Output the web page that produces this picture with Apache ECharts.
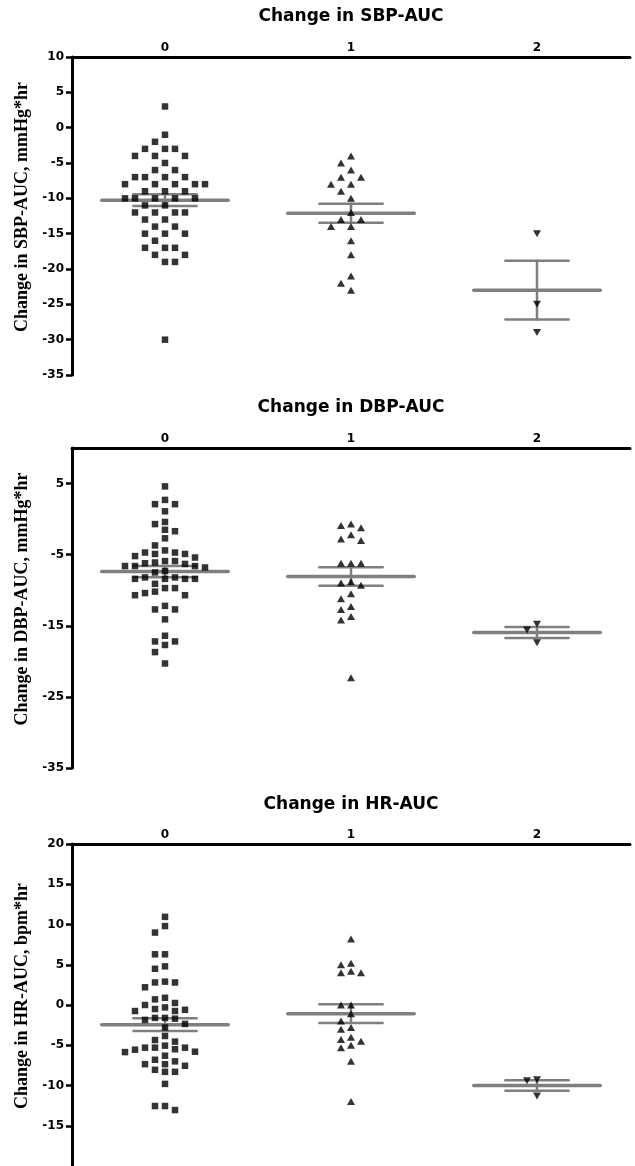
<!DOCTYPE html>
<html>
<head>
<meta charset="utf-8">
<script src="https://cdn.jsdelivr.net/npm/echarts@6/dist/echarts.min.js"></script>
<style>
  html, body { margin: 0; padding: 0; background: #fff; }
  #chart { width: 635px; height: 1166px; }
</style>
</head>
<body>
<div id="chart"></div>
<script>
// groups on the x axis
const categories = ['0', '1', '2']

// Change in SBP-AUC, mmHg*hr
const sbp0 = [3, -1, -2, -3, -3, -3, -4, -4, -4, -5, -6, -6, -7, -7, -7, -7, -8, -8, -8, -8, -8,
  -9, -9, -9, -10, -10, -10, -10, -10, -11, -11, -12, -12, -12, -12, -13, -13, -14, -14,
  -15, -15, -15, -16, -17, -17, -17, -18, -18, -19, -19, -30]
const sbp1 = [-4, -5, -6, -7, -7, -8, -8, -9, -10, -12, -13, -13, -14, -14, -16, -18, -21, -22, -23]
const sbp2 = [-15, -25, -29]

// Change in DBP-AUC, mmHg*hr
const dbp0 = [4.6, 2.7, 2.1, 2.1, 1.1, -0.4, -0.7, -1.5, -1.7, -2.7, -3.7, -4.4, -4.7, -4.7, -4.9, -4.9,
  -5.2, -5.4, -5.9, -5.9, -6.1, -6.2, -6.3, -6.6, -6.6, -6.6, -6.8, -7.3, -7.5, -8.2, -8.2, -8.4,
  -8.4, -8.4, -8.4, -9.1, -9.7, -9.7, -10.2, -10.4, -10.7, -10.7, -12.2, -12.7, -12.7, -14.1,
  -16.4, -17.2, -17.2, -17.7, -18.7, -20.3]
const dbp1 = [-0.7, -0.9, -1.2, -2.2, -2.8, -3.0, -6.2, -6.2, -6.2, -8.8, -9.0, -9.3, -10.5, -11.2,
  -12.3, -12.7, -13.7, -14.2, -22.3]
const dbp2 = [-14.8, -15.6, -17.4]

// Change in HR-AUC, bpm*hr
const hr0 = [10.95, 9.8, 9.0, 6.3, 6.3, 4.8, 4.5, 2.9, 2.8, 2.8, 2.2, 0.9, 0.7, 0.25, 0.0, -0.3, -0.5,
  -0.6, -0.75, -0.75, -1.6, -1.6, -1.7, -1.85, -2.35, -2.8, -3.85, -4.35, -4.55, -5.05, -5.3, -5.3,
  -5.3, -5.5, -5.55, -5.8, -5.85, -6.3, -6.8, -7.0, -7.35, -7.35, -7.55, -8.05, -8.3, -8.3, -9.8,
  -12.55, -12.55, -13.05]
const hr1 = [8.2, 5.2, 5.0, 4.2, 4.0, 4.0, 0.0, 0.0, -1.1, -2.0, -2.8, -3.0, -4.0, -4.3, -4.5, -5.0,
  -5.3, -7.0, -12.0]
const hr2 = [-9.3, -9.4, -11.3]

const panels = [
  { title: 'Change in SBP-AUC', name: 'Change in SBP-AUC, mmHg*hr', groups: [sbp0, sbp1, sbp2],
    min: -35, max: 10, interval: 5, top: 57, height: 318, titleTop: 8 },
  { title: 'Change in DBP-AUC', name: 'Change in DBP-AUC, mmHg*hr', groups: [dbp0, dbp1, dbp2],
    min: -35, max: 10, interval: 10, top: 448, height: 320, titleTop: 399, hideMax: true },
  { title: 'Change in HR-AUC', name: 'Change in HR-AUC, bpm*hr', groups: [hr0, hr1, hr2],
    min: -20, max: 20, interval: 5, top: 844, height: 322, titleTop: 796, hideMin: true }
]

const sans = 'DejaVu Sans'
const gray = '#7f7f7f'

function meanSem(arr) {
  const n = arr.length
  const m = arr.reduce((a, b) => a + b, 0) / n
  const sd = Math.sqrt(arr.reduce((a, b) => a + (b - m) * (b - m), 0) / (n - 1))
  return [m, sd / Math.sqrt(n)]
}

// mean line + SEM whiskers
function renderBars(params, api) {
  const c = api.value(0)
  const m = api.value(1)
  const s = api.value(2)
  const band = api.size([1, 0])[0]
  const mid = api.coord([c, m])
  const hi = api.coord([c, m + s])
  const lo = api.coord([c, m - s])
  const line = (x1, y1, x2, y2, w) => ({
    type: 'line',
    shape: { x1, y1, x2, y2 },
    style: { stroke: gray, lineWidth: w, lineCap: 'round' }
  })
  return {
    type: 'group',
    children: [
      line(mid[0], hi[1], mid[0], lo[1], 2.5),
      line(mid[0] - band * 0.17, hi[1], mid[0] + band * 0.17, hi[1], 2.5),
      line(mid[0] - band * 0.17, lo[1], mid[0] + band * 0.17, lo[1], 2.5),
      line(mid[0] - band * 0.34, mid[1], mid[0] + band * 0.34, mid[1], 3.5)
    ]
  }
}

const symbols = [
  { symbol: 'rect', symbolSize: 6.5, symbolRotate: 0 },
  { symbol: 'triangle', symbolSize: [8, 7], symbolRotate: 0 },
  { symbol: 'triangle', symbolSize: [8, 7], symbolRotate: 180 }
]

const chart = echarts.init(document.getElementById('chart'))

function pointData(p, g, offsets) {
  return panels[p].groups[g].map((v, i) => ({
    value: [g, v],
    symbolOffset: [offsets ? offsets[i] : 0, 0]
  }))
}

const option = {
  animation: false,
  title: [],
  grid: [],
  xAxis: [],
  yAxis: [],
  series: []
}

panels.forEach((p, i) => {
  option.title.push({
    text: p.title,
    left: 351,
    textAlign: 'center',
    top: p.titleTop,
    padding: 0,
    textStyle: { fontFamily: sans, fontWeight: 'bold', fontSize: 17, color: '#000' }
  })
  option.grid.push({ left: 72, right: 5, top: p.top, height: p.height })
  option.xAxis.push({
    gridIndex: i,
    type: 'category',
    data: categories,
    position: 'top',
    axisLine: { onZero: false, lineStyle: { color: '#000', width: 3 } },
    axisTick: { inside: true, alignWithLabel: true, length: 5, lineStyle: { color: '#000', width: 2.5 } },
    axisLabel: { margin: 3, color: '#000', fontFamily: sans, fontWeight: 'bold', fontSize: 12 },
    splitLine: { show: false }
  })
  option.yAxis.push({
    gridIndex: i,
    type: 'value',
    min: p.min,
    max: p.max,
    interval: p.interval,
    axisLine: { show: true, lineStyle: { color: '#000', width: 3 } },
    axisTick: { show: true, length: 6, lineStyle: { color: '#000', width: 2.5 } },
    axisLabel: {
      margin: 8, color: '#000', fontFamily: sans, fontWeight: 'bold', fontSize: 12,
      showMaxLabel: !p.hideMax, showMinLabel: !p.hideMin
    },
    splitLine: { show: false },
    name: p.name,
    nameLocation: 'middle',
    nameRotate: 90,
    nameGap: 38,
    nameTextStyle: {
      fontFamily: 'Liberation Serif', fontWeight: 'bold', fontSize: 18, color: '#000',
      padding: [0, 0, 0, 18]
    }
  })
  option.series.push({
    type: 'custom',
    xAxisIndex: i,
    yAxisIndex: i,
    renderItem: renderBars,
    data: p.groups.map((arr, g) => [g].concat(meanSem(arr))),
    z: 2
  })
  p.groups.forEach((arr, g) => {
    option.series.push({
      id: 'pts-' + i + '-' + g,
      type: 'scatter',
      xAxisIndex: i,
      yAxisIndex: i,
      symbol: symbols[g].symbol,
      symbolSize: symbols[g].symbolSize,
      symbolRotate: symbols[g].symbolRotate,
      itemStyle: { color: '#000' },
      data: pointData(i, g),
      z: 3
    })
  })
})

chart.setOption(option)

// spread points that would overlap sideways, like a dot plot
const step = 10
const gap = 7.3
const updates = []
panels.forEach((p, i) => {
  p.groups.forEach((arr, g) => {
    const placed = []
    const offsets = arr.map(v => {
      const y = chart.convertToPixel({ gridIndex: i }, [g, v])[1]
      let dx = 0
      for (let k = 0; k < 40; k++) {
        dx = (k % 2 ? -(k + 1) / 2 : k / 2) * step
        const hit = placed.some(q => Math.abs(q.y - y) < gap && Math.abs(q.dx - dx) < step - 1)
        if (!hit) break
      }
      placed.push({ y, dx })
      return dx
    })
    updates.push({ id: 'pts-' + i + '-' + g, data: pointData(i, g, offsets) })
  })
})
chart.setOption({ series: updates })
</script>
</body>
</html>
